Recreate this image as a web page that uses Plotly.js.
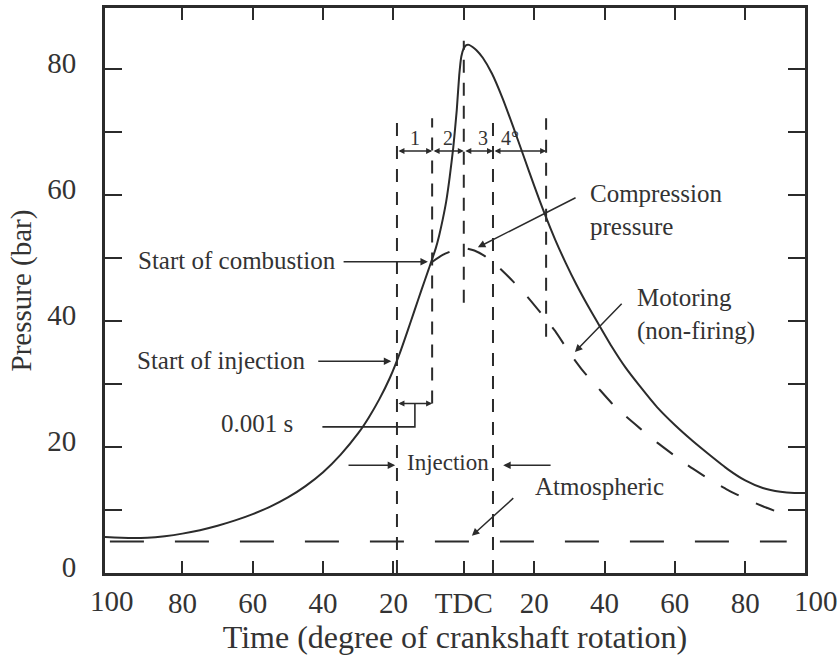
<!DOCTYPE html>
<html>
<head>
<meta charset="utf-8">
<script src="https://cdn.plot.ly/plotly-3.0.1.min.js"></script>
<style>
  html, body { margin: 0; padding: 0; background: #ffffff; }
  #chart { width: 838px; height: 664px; }
</style>
</head>
<body>
<div id="chart"></div>
<script>
// ---- data (crank angle in degrees, negative = before TDC; pressure in bar) ----
const xFiring = [-102, -95, -90, -85, -80, -75, -70, -65, -60, -55, -50, -45, -40, -35, -30, -27, -24, -21, -18, -16, -14, -12, -10, -8, -7, -6, -5, -4, -3, -2, -1.3, -0.7, 0, 0.7, 1.5, 2.5, 3.6, 5.4, 8, 11, 14, 17, 20, 23, 26, 29, 32, 35, 38, 42, 46, 50, 55, 60, 65, 70, 75, 80, 85, 90, 94, 97];
const pFiring = [5.7, 5.55, 5.6, 5.85, 6.25, 6.8, 7.5, 8.35, 9.35, 10.55, 12.0, 13.8, 16.0, 18.8, 22.2, 24.7, 27.6, 31.0, 35.2, 38.4, 41.7, 45.0, 48.2, 51.5, 53.6, 56.1, 59.0, 62.9, 67.5, 73.5, 79.0, 82.0, 83.3, 83.8, 83.85, 83.5, 83.0, 81.8, 79.3, 75.4, 70.9, 66.2, 61.5, 57.0, 52.9, 49.2, 45.8, 42.7, 39.8, 36.0, 32.6, 29.7, 26.3, 23.5, 21.0, 18.7, 16.5, 14.7, 13.5, 12.9, 12.7, 12.7];

const xMotoring = [-9, -6, -3, 0, 3, 6, 10, 14, 18, 22, 26, 30, 34, 38, 42, 46, 50, 55, 60, 65, 70, 75, 80, 85, 92];
const pMotoring = [49.4, 50.5, 51.2, 51.6, 51.2, 50.3, 48.5, 46.3, 43.9, 41.2, 38.4, 35.0, 32.0, 29.5, 27.0, 24.9, 23.0, 20.7, 18.6, 16.6, 14.8, 13.2, 11.8, 10.6, 9.1];

const xAtmospheric = [-100.6, 91.8];
const pAtmospheric = [5, 5];

// event markers: start of injection, start of combustion, TDC, end of injection, end of period 4
const eventAngle  = [-19, -9, 0, 8.3, 23.4];
const eventTop    = [72.2, 72.2, 84.5, 72.2, 72.2];
const eventBottom = [0, 26.9, 42.9, 0, 37.5];

// period labels between the event markers
const periodText = ['1', '2', '3', '4°'];
const periodX = [-13.9, -4.5, 5.5, 13.2];
const periodArrowP = 67;
const periodLabelP = 69.0;

// axis ticks
const xTickVals = [-80, -60, -40, -20, 0, 20, 40, 60, 80];
const xTickText = ['80', '60', '40', '20', 'TDC', '20', '40', '60', '80'];
const xEndVals = [-100, 100];
const xEndText = ['100', '100'];
const yTickVals = [0, 10, 20, 30, 40, 50, 60, 70, 80];
const yTickText = ['0', '', '20', '', '40', '', '60', '', '80'];
const xRange = [-102, 97];
const yRange = [0, 89.7];

// text labels
const labelText   = ['Start of combustion', 'Start of injection', '0.001 s', 'Injection', 'Compression<br>pressure', 'Motoring<br>(non-firing)', 'Atmospheric'];
const labelX      = [-35.8, -44.3, -48.0, -4.4, 35.3, 48.6, 19.7];
const labelP      = [49.6, 33.8, 23.8, 17.6, 57.7, 41.0, 13.7];
const labelAnchor = ['right', 'right', 'right', 'center', 'left', 'left', 'left'];
const labelSize   = [25, 25, 25, 23, 25, 25, 25];

// pointer arrows: head (x,p) and tail (x,p)
const arrowHeadX = [-10.2, -20.6, -19.5, 11.2, 4.0, 31.6, 2.3];
const arrowHeadP = [49.4, 33.6, 17.1, 17.1, 51.7, 35.1, 5.9];
const arrowTailX = [-34.6, -41.8, -33.2, 25.1, 32.2, 45.3, 14.5];
const arrowTailP = [49.4, 33.6, 17.1, 17.1, 59.7, 43.0, 12.1];

// 0.001 s bracket
const bracketX = [-40.2, -13.9, -13.9];
const bracketP = [23.2, 23.2, 26.9];
const delayArrowP = 26.9;

// ---- drawing ----
const ink = '#2b2b2b';
const serif = 'Liberation Serif, Times New Roman, serif';

const traces = [
  { x: xFiring, y: pFiring, mode: 'lines', line: { color: ink, width: 2, shape: 'spline', smoothing: 0.5 }, hoverinfo: 'skip', name: 'Firing' },
  { x: xMotoring, y: pMotoring, mode: 'lines', line: { color: ink, width: 2, dash: '20px,19px', shape: 'spline', smoothing: 0.5 }, hoverinfo: 'skip', name: 'Motoring' },
  { x: xAtmospheric, y: pAtmospheric, mode: 'lines', line: { color: ink, width: 2, dash: '34px,31px' }, hoverinfo: 'skip', name: 'Atmospheric' },
  { x: bracketX, y: bracketP, mode: 'lines', line: { color: ink, width: 1.6 }, hoverinfo: 'skip', name: 'bracket' }
];

const shapes = eventAngle.map((a, i) => ({
  type: 'line', xref: 'x', yref: 'y', x0: a, x1: a, y0: eventBottom[i], y1: eventTop[i],
  line: { color: ink, width: 2, dash: '13px,10px' }
}));

const annotations = [];
labelText.forEach((t, i) => annotations.push({
  x: labelX[i], y: labelP[i], xref: 'x', yref: 'y', text: t, showarrow: false,
  xanchor: labelAnchor[i], yanchor: 'middle', align: 'left',
  font: { family: serif, size: labelSize[i], color: '#333' }
}));
arrowHeadX.forEach((hx, i) => annotations.push({
  x: hx, y: arrowHeadP[i], ax: arrowTailX[i], ay: arrowTailP[i], axref: 'x', ayref: 'y', xref: 'x', yref: 'y',
  text: '', showarrow: true, arrowhead: 2, arrowsize: 1, arrowwidth: 1.5, arrowcolor: ink
}));
for (let i = 0; i < eventAngle.length - 1; i++) {
  annotations.push({
    x: eventAngle[i + 1], y: periodArrowP, ax: eventAngle[i], ay: periodArrowP, axref: 'x', ayref: 'y', xref: 'x', yref: 'y',
    text: '', showarrow: true, arrowhead: 2, startarrowhead: 2, arrowside: 'end+start', arrowsize: 0.8, startarrowsize: 0.8, arrowwidth: 1.5, arrowcolor: ink
  });
  annotations.push({
    x: periodX[i], y: periodLabelP, xref: 'x', yref: 'y', text: periodText[i], showarrow: false,
    xanchor: 'center', yanchor: 'middle', font: { family: serif, size: 20, color: '#333' }
  });
}
annotations.push({
  x: eventAngle[1], y: delayArrowP, ax: eventAngle[0], ay: delayArrowP, axref: 'x', ayref: 'y', xref: 'x', yref: 'y',
  text: '', showarrow: true, arrowhead: 2, startarrowhead: 2, arrowside: 'end+start', arrowsize: 0.8, startarrowsize: 0.8, arrowwidth: 1.5, arrowcolor: ink
});
// end tick labels "100" (the frame stops just inside ±100)
xEndVals.forEach((v, i) => annotations.push({
  x: (v - xRange[0]) / (xRange[1] - xRange[0]), y: 0, xref: 'paper', yref: 'paper',
  text: xEndText[i], showarrow: false, xanchor: 'center', yanchor: 'top', yshift: -10,
  font: { family: serif, size: 29, color: '#333' }
}));

const layout = {
  width: 838, height: 664,
  margin: { l: 105, r: 33, t: 8, b: 91 },
  paper_bgcolor: '#ffffff', plot_bgcolor: '#ffffff',
  showlegend: false,
  font: { family: serif, color: '#333' },
  xaxis: {
    range: xRange, tickmode: 'array', tickvals: xTickVals, ticktext: xTickText,
    ticks: 'inside', ticklen: 12, tickwidth: 2, tickcolor: ink,
    showline: true, linewidth: 3, linecolor: ink, mirror: 'ticks',
    showgrid: false, zeroline: false,
    ticklabelstandoff: 2,
    tickfont: { family: serif, size: 29, color: '#333' },
    title: { text: 'Time (degree of crankshaft rotation)', font: { family: serif, size: 32, color: '#333' }, standoff: 8 }
  },
  yaxis: {
    range: yRange, tickmode: 'array', tickvals: yTickVals, ticktext: yTickText,
    ticks: 'inside', ticklen: 17, tickwidth: 2, tickcolor: ink,
    showline: true, linewidth: 3, linecolor: ink, mirror: 'ticks',
    showgrid: false, zeroline: false,
    ticklabelstandoff: 20, ticklabelshift: -6,
    tickfont: { family: serif, size: 29, color: '#333' },
    title: { text: 'Pressure (bar)', font: { family: serif, size: 29, color: '#333' }, standoff: 8 }
  },
  shapes: shapes,
  annotations: annotations
};

Plotly.newPlot('chart', traces, layout, { staticPlot: true, displayModeBar: false });
</script>
</body>
</html>
